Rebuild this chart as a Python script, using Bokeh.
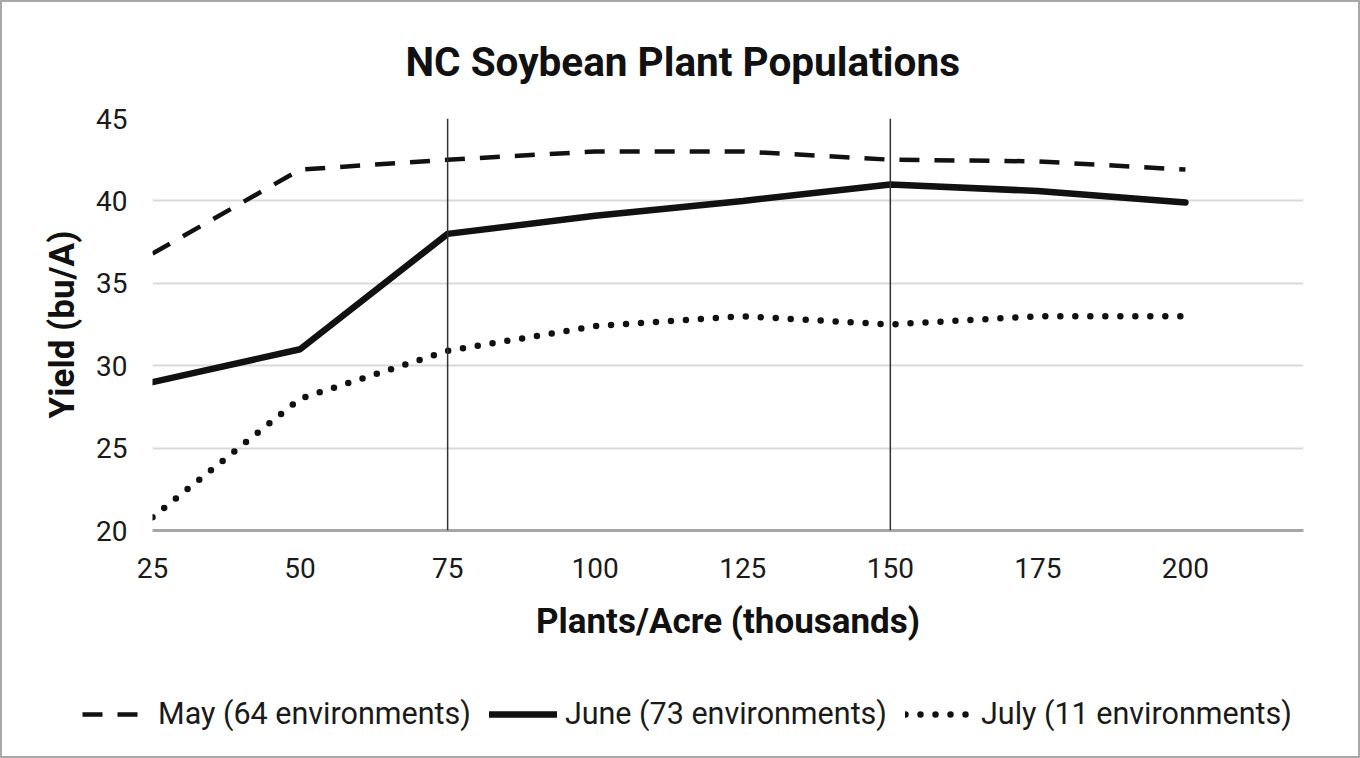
from bokeh.plotting import figure
from bokeh.models import Legend, LegendItem, FixedTicker, Span, Range1d
from bokeh.layouts import column
from bokeh.embed import file_html
from bokeh.resources import INLINE

# ---- data ----
plants = [25, 50, 75, 100, 125, 150, 175, 200]
may = [36.8, 41.9, 42.5, 43.0, 43.0, 42.5, 42.4, 41.9]
june = [29.0, 31.0, 38.0, 39.1, 40.0, 41.0, 40.6, 39.9]
july = [20.8, 28.0, 30.9, 32.4, 33.0, 32.5, 33.0, 33.0]
x_ticks = [25, 50, 75, 100, 125, 150, 175, 200]
y_ticks = [20, 25, 30, 35, 40, 45]
grid_ticks = [25, 30, 35, 40]
marker_lines = [75, 150]
labels = ["May (64 environments)", "June (73 environments)", "July (11 environments)"]

FONT = "Roboto"
INK = "#111111"
STYLES = [dict(line_width=4.5, line_dash="20 15"),
          dict(line_width=6.5, line_cap="round"),
          dict(line_width=6.5, line_dash="0 15", line_cap="round")]

p = figure(width=1356, height=680, output_backend="svg", toolbar_location=None,
           x_range=Range1d(25, 220), y_range=Range1d(20, 45),
           min_border_left=150, min_border_right=55, min_border_top=115, min_border_bottom=152)
p.outline_line_color = None

p.title.text = "NC Soybean Plant Populations"
p.title.align = "left"
p.title.offset = 253
p.title.text_font = FONT
p.title.text_font_size = "40.5px"
p.title.text_font_style = "bold"
p.title.text_color = INK
p.title.standoff = 66

p.xgrid.grid_line_color = None
p.ygrid.ticker = FixedTicker(ticks=grid_ticks)
p.ygrid.grid_line_color = "#d9d9d9"
p.ygrid.grid_line_width = 2

p.xaxis.ticker = FixedTicker(ticks=x_ticks)
p.yaxis.ticker = FixedTicker(ticks=y_ticks)
for ax in (p.xaxis, p.yaxis):
    ax.major_tick_line_color = None
    ax.minor_tick_line_color = None
    ax.major_label_text_font = FONT
    ax.major_label_text_font_size = "28px"
    ax.major_label_text_color = "#1a1a1a"
    ax.axis_label_text_font = FONT
    ax.axis_label_text_font_size = "35px"
    ax.axis_label_text_font_style = "bold"
    ax.axis_label_text_color = INK
p.xaxis.axis_line_color = "#a6a6a6"
p.xaxis.axis_line_width = 3
p.yaxis.axis_line_color = None
p.xaxis.axis_label = "Plants/Acre (thousands)"
p.yaxis.axis_label = "Yield (bu/A)"
p.xaxis.major_label_standoff = 21
p.yaxis.major_label_standoff = 19
p.xaxis.axis_label_standoff = 20
p.yaxis.axis_label_standoff = 10

for xv in marker_lines:
    p.add_layout(Span(location=xv, dimension="height", line_color="#333333", line_width=1.5))

for ys, st in zip([may, june, july], STYLES):
    p.line(plants, ys, line_color=INK, **st)

# legend strip below the chart
lg = figure(width=1356, height=74, output_backend="svg", toolbar_location=None,
            x_range=Range1d(25, 220), y_range=Range1d(20, 45),
            x_axis_type=None, y_axis_type=None, title=None,
            min_border=0, min_border_left=0, min_border_right=0, min_border_top=0, min_border_bottom=0)
lg.frame_align = False
lg.outline_line_color = None
lg.xgrid.visible = False
lg.ygrid.visible = False
items = []
for ys, st, lab in zip([may, june, july], STYLES, labels):
    r = lg.line(plants, ys, line_color=INK, visible=False, **st)
    items.append(LegendItem(label=lab, renderers=[r]))

legend = Legend(items=items, orientation="horizontal", location=(80, 25),
                border_line_color=None, background_fill_alpha=0, inactive_fill_alpha=0,
                padding=0, margin=0, spacing=18, label_standoff=8,
                glyph_width=68, glyph_height=30, label_height=30,
                label_text_font=FONT, label_text_font_size="30.5px", label_text_color="#1a1a1a")
lg.add_layout(legend, "center")

layout = column(p, lg, spacing=0, styles={"border": "2px solid #a8a8a8"})

open("out.html", "w").write(file_html(layout, INLINE))
